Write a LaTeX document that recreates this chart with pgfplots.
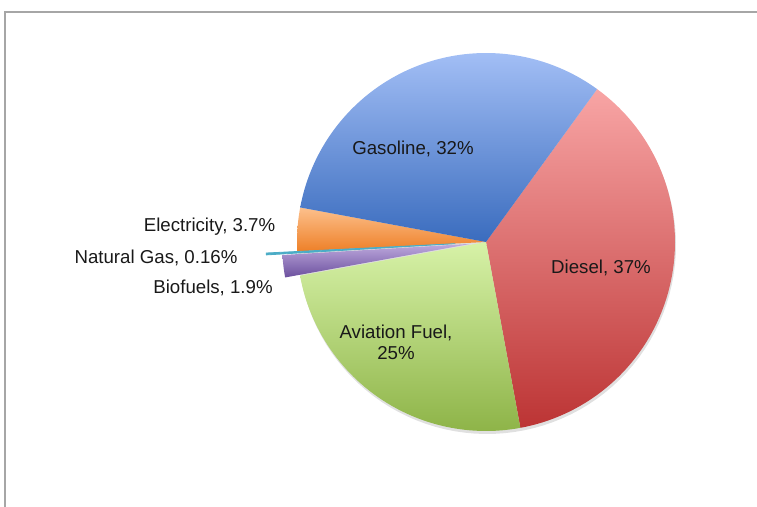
\documentclass[border=0pt]{standalone}
\usepackage{pgfplots}
\pgfplotsset{compat=1.18}
\usepackage{fontspec}
\setmainfont{Liberation Sans}

\definecolor{gasTop}{RGB}{162,190,245}
\definecolor{gasBot}{RGB}{58,108,190}
\definecolor{dieTop}{RGB}{248,165,165}
\definecolor{dieBot}{RGB}{188,52,52}
\definecolor{aviTop}{RGB}{215,242,168}
\definecolor{aviBot}{RGB}{142,180,72}
\definecolor{eleTop}{RGB}{252,192,140}
\definecolor{eleBot}{RGB}{238,128,40}
\definecolor{bioTop}{RGB}{190,170,222}
\definecolor{bioBot}{RGB}{108,80,158}
\definecolor{ngCol}{RGB}{75,172,198}

\begin{document}
\begin{tikzpicture}[lbl/.style={font=\fontsize{14}{15.5}\selectfont, text=black!90, align=center}]
% shares in percent, clockwise from the top right
\pgfmathsetmacro{\sc}{360/(37+25+1.9+0.16+3.7+32)}
\pgfmathsetmacro{\aO}{54}
\pgfmathsetmacro{\aD}{\aO-37*\sc}   % Diesel
\pgfmathsetmacro{\aA}{\aD-25*\sc}   % Aviation Fuel
\pgfmathsetmacro{\aB}{\aA-1.9*\sc}  % Biofuels
\pgfmathsetmacro{\aN}{\aB-0.16*\sc} % Natural Gas
\pgfmathsetmacro{\aE}{\aN-3.7*\sc}  % Electricity
\pgfmathsetmacro{\aG}{\aE-32*\sc}   % Gasoline
% exploded slices
\pgfmathsetmacro{\mB}{(\aA+\aB)/2}
\pgfmathsetmacro{\bx}{486+15*cos(\mB)}
\pgfmathsetmacro{\by}{265+15*sin(\mB)}
\pgfmathsetmacro{\mN}{(\aB+\aN)/2}
\pgfmathsetmacro{\nx}{486+31*cos(\mN)}
\pgfmathsetmacro{\ny}{265+31*sin(\mN)}
\begin{axis}[
    at={(0,0)}, anchor=south west,
    scale only axis,
    width=567.75pt, height=380.25pt,
    xmin=0, xmax=757, ymin=0, ymax=507,
    hide axis, clip=false
]
\addplot[color=gray!70, line width=1pt] coordinates {(5,0) (5,495) (757,495)};

% shadow
\addplot[draw=none, fill=black, opacity=0.12, domain=0:360, samples=120, variable=\t]
    ({487+189*cos(\t)}, {262+189*sin(\t)}) -- cycle;

\addplot[draw=none, top color=dieTop, bottom color=dieBot, domain=\aD:\aO, samples=80, variable=\t]
    ({486+189*cos(\t)}, {265+189*sin(\t)}) -- (486,265) -- cycle;
\addplot[draw=none, top color=aviTop, bottom color=aviBot, domain=\aA:\aD, samples=60, variable=\t]
    ({486+189*cos(\t)}, {265+189*sin(\t)}) -- (486,265) -- cycle;
\addplot[draw=none, top color=eleTop, bottom color=eleBot, domain=\aE:\aN, samples=20, variable=\t]
    ({486+189*cos(\t)}, {265+189*sin(\t)}) -- (486,265) -- cycle;
\addplot[draw=none, top color=gasTop, bottom color=gasBot, domain=\aG:\aE, samples=80, variable=\t]
    ({486+189*cos(\t)}, {265+189*sin(\t)}) -- (486,265) -- cycle;
\addplot[draw=ngCol, fill=ngCol, line width=0.6pt, domain=\aN:\aB, samples=3, variable=\t]
    ({\nx+189*cos(\t)}, {\ny+189*sin(\t)}) -- (\nx,\ny) -- cycle;
\addplot[draw=none, top color=bioTop, bottom color=bioBot, domain=\aA:\aB, samples=20, variable=\t]
    ({\bx+189*cos(\t)}, {\by+189*sin(\t)}) -- (\bx,\by) -- cycle;

\node[lbl] at (axis cs:413,358) {Gasoline, 32\%};
\node[lbl] at (axis cs:601,239) {Diesel, 37\%};
\node[lbl] at (axis cs:396,165) {Aviation Fuel,\\25\%};
\node[lbl] at (axis cs:209.5,280) {Electricity, 3.7\%};
\node[lbl] at (axis cs:156,249) {Natural Gas, 0.16\%};
\node[lbl] at (axis cs:213,219) {Biofuels, 1.9\%};
\end{axis}
\pgfresetboundingbox
\path (0,0) rectangle (567.75pt,380.25pt);
\end{tikzpicture}
\end{document}
